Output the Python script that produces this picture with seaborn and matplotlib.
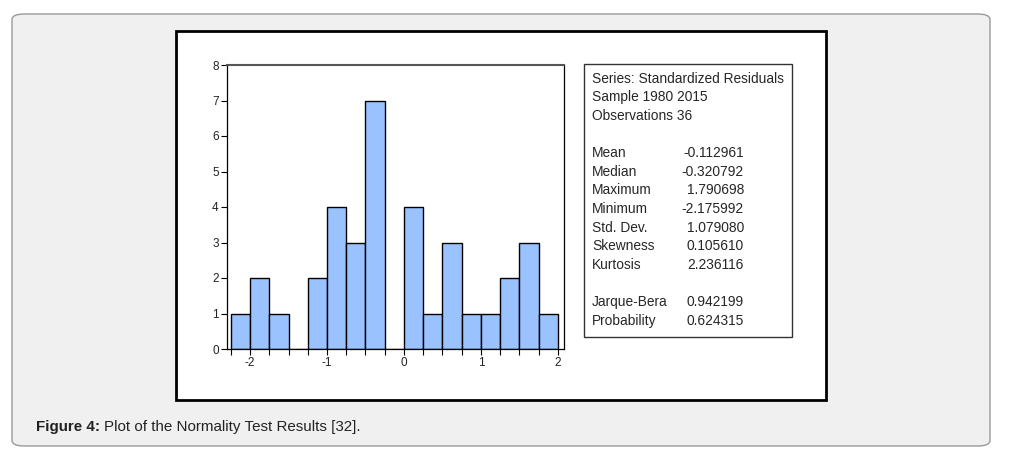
import numpy as np
import matplotlib.pyplot as plt
import seaborn as sns
from matplotlib.patches import FancyBboxPatch, Rectangle

# Histogram of standardized residuals (bin edges and counts)
bin_edges = [-2.25, -2.0, -1.75, -1.5, -1.25, -1.0, -0.75, -0.5, -0.25, 0.0,
             0.25, 0.5, 0.75, 1.0, 1.25, 1.5, 1.75, 2.0]
counts = [1, 2, 1, 0, 2, 4, 3, 7, 0, 4, 1, 3, 1, 1, 2, 3, 1]

stat_names = ['Mean', 'Median', 'Maximum', 'Minimum', 'Std. Dev.', 'Skewness', 'Kurtosis']
stat_values = ['-0.112961', '-0.320792', '1.790698', '-2.175992', '1.079080', '0.105610', '2.236116']
test_names = ['Jarque-Bera', 'Probability']
test_values = ['0.942199', '0.624315']
header_lines = ['Series: Standardized Residuals', 'Sample 1980 2015', 'Observations 36']

sns.set_style('white')
plt.rcParams['font.family'] = ['Liberation Sans', 'DejaVu Sans']

W, H = 1033, 458
fig = plt.figure(figsize=(W / 100, H / 100), dpi=100)
fig.patch.set_facecolor('white')

def fx(px):
    return px / W

def fy(py):
    return 1 - py / H

# outer grey card
fig.patches.append(FancyBboxPatch((fx(12), fy(446)), fx(990) - fx(12), fy(14) - fy(446),
                                  boxstyle='round,pad=0,rounding_size=0.012',
                                  transform=fig.transFigure, facecolor='#f0f0f0',
                                  edgecolor='#9a9a9a', linewidth=1.0, zorder=-3))
# white inner panel
fig.patches.append(Rectangle((fx(176), fy(400)), fx(826) - fx(176), fy(31) - fy(400),
                             transform=fig.transFigure, facecolor='white',
                             edgecolor='black', linewidth=2.0, zorder=-2))
# stats box
fig.patches.append(Rectangle((fx(584), fy(337)), fx(792) - fx(584), fy(64) - fy(337),
                             transform=fig.transFigure, facecolor='white',
                             edgecolor='#333333', linewidth=1.0, zorder=-1))

ax = fig.add_axes([fx(227), fy(349), fx(564) - fx(227), fy(65) - fy(349)])
ax.set_zorder(2)
centers = [(a + b) / 2 for a, b in zip(bin_edges[:-1], bin_edges[1:])]
sns.histplot(x=centers, weights=counts, bins=bin_edges, ax=ax,
             color='#99c2ff', edgecolor='black', linewidth=1.0, alpha=1.0)
ax.set_xlim(-2.30, 2.08)
ax.set_ylim(0, 8)
ax.set_xlabel('')
ax.set_ylabel('')
ax.set_yticks(range(0, 9))
ax.set_xticks([-2, -1, 0, 1, 2])
ax.set_xticklabels(['-2', '-1', '0', '1', '2'])
ax.set_xticks(bin_edges, minor=True)
ax.tick_params(axis='both', which='both', direction='out', length=4, width=0.8,
               color='black', labelsize=8.5, pad=2, labelcolor='#222222')
ax.tick_params(axis='x', which='both', bottom=True)
ax.tick_params(axis='y', left=True)
for s in ax.spines.values():
    s.set_visible(True)
    s.set_color('black')
    s.set_linewidth(0.9)
ax.spines['top'].set_color('#555555')
ax.spines['top'].set_linewidth(1.5)

# stats text
fs = 9.9
for i, line in enumerate(header_lines):
    fig.text(fx(592), fy(79 + i * 18.5), line, fontsize=fs, va='center', ha='left')
for i, (n, v) in enumerate(zip(stat_names, stat_values)):
    y = fy(153 + i * 18.7)
    fig.text(fx(592), y, n, fontsize=fs, va='center', ha='left')
    fig.text(fx(744), y, v, fontsize=fs, va='center', ha='right')
for i, (n, v) in enumerate(zip(test_names, test_values)):
    y = fy(302 + i * 19)
    fig.text(fx(592), y, n, fontsize=fs, va='center', ha='left')
    fig.text(fx(744), y, v, fontsize=fs, va='center', ha='right')

# caption
cap_fs = 10.9
t1 = fig.text(fx(36), fy(427), 'Figure 4:', fontsize=cap_fs, fontweight='bold',
              va='center', ha='left', color='#222222')
renderer = fig.canvas.get_renderer()
bb = t1.get_window_extent(renderer=renderer)
fig.text(bb.x1 / W + fx(4), fy(427), 'Plot of the Normality Test Results [32].',
         fontsize=cap_fs, va='center', ha='left', color='#222222')

fig.savefig('out.png', dpi=100)
